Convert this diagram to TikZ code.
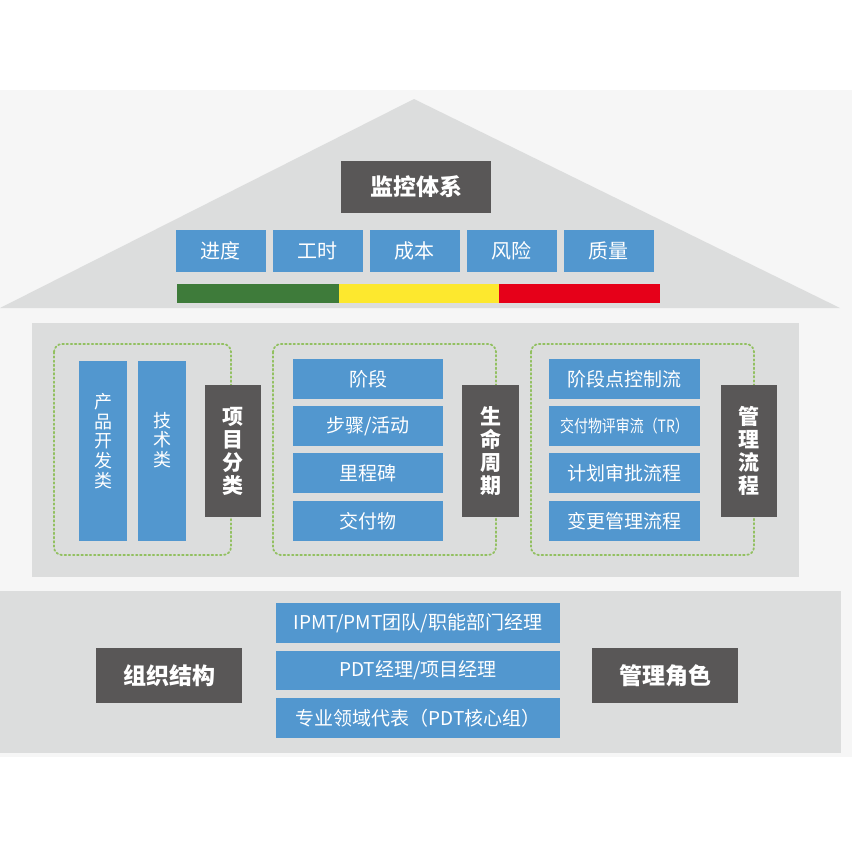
\documentclass[tikz,border=0pt]{standalone}
\usepackage{fontspec}
\setmainfont{Noto Sans CJK SC}
\definecolor{myblue}{RGB}{82,151,207}
\definecolor{mydark}{RGB}{89,87,87}
\definecolor{bandgray}{RGB}{220,221,221}
\definecolor{lightbg}{RGB}{246,246,246}
\definecolor{dotgreen}{RGB}{146,192,96}
\definecolor{bargreen}{RGB}{62,123,58}
\definecolor{baryellow}{RGB}{253,232,46}
\definecolor{barred}{RGB}{230,0,25}
\begin{document}
\begin{tikzpicture}[x=1pt,y=-1pt,
  boxbase/.style={inner sep=0pt, outer sep=0pt, text=white, align=center},
  bluebox/.style={boxbase, fill=myblue, font=\fontsize{19}{21}\selectfont},
  darkbox/.style={boxbase, fill=mydark, font=\bfseries\fontsize{23}{25}\selectfont},
  vdark/.style={boxbase, fill=mydark, font=\bfseries\fontsize{21}{23}\selectfont},
  vtext/.style={inner sep=0pt, text=white, align=center, font=\fontsize{18}{19.6}\selectfont},
  dotbox/.style={draw=dotgreen, line width=1.8pt, dash pattern=on 1.6pt off 2.6pt, line cap=round, rounded corners=8pt},
  bandfill/.style={fill=bandgray}
]
\useasboundingbox (0,0) rectangle (852,852);
\fill[white] (0,0) rectangle (852,852);
\fill[lightbg] (0,90) rectangle (852,757);

% roof
\fill[bandfill] (0,308) -- (414,99) -- (840,308) -- cycle;
\node[darkbox, minimum width=150pt, minimum height=52pt] (mon) at (416,187) {监控体系};
\node[bluebox, font=\fontsize{20}{22}\selectfont, minimum width=90pt, minimum height=42pt] (t1) at (220.5,251) {进度};
\node[bluebox, font=\fontsize{20}{22}\selectfont, minimum width=90pt, minimum height=42pt] (t2) at (317.5,251) {工时};
\node[bluebox, font=\fontsize{20}{22}\selectfont, minimum width=90pt, minimum height=42pt] (t3) at (414.5,251) {成本};
\node[bluebox, font=\fontsize{20}{22}\selectfont, minimum width=90pt, minimum height=42pt] (t4) at (511.5,251) {风险};
\node[bluebox, font=\fontsize{20}{22}\selectfont, minimum width=90pt, minimum height=42pt] (t5) at (608.5,251) {质量};
\fill[bargreen] (177,284) rectangle (339,303);
\fill[baryellow] (339,284) rectangle (499,303);
\fill[barred] (499,284) rectangle (660,303);

% middle band
\fill[bandfill] (32,323) rectangle (799,577);
\draw[dotbox] (54,344) rectangle (231,555);
\draw[dotbox] (273,344) rectangle (496,555);
\draw[dotbox] (531,344) rectangle (754,555);

\node[bluebox, minimum width=48pt, minimum height=180pt] (pd) at (103,451) {};
\node[vtext] (pdt) at (103,441) {产\\品\\开\\发\\类};
\node[bluebox, minimum width=48pt, minimum height=180pt] (js) at (162,451) {};
\node[vtext] (jst) at (162,440) {技\\术\\类};
\node[vdark, minimum width=56pt, minimum height=132pt] (xmfl) at (233,451) {项\\目\\分\\类};

\node[bluebox, minimum width=150pt, minimum height=40pt] (l1) at (368,379) {阶段};
\node[bluebox, minimum width=150pt, minimum height=40pt] (l2) at (368,426) {步骤/活动};
\node[bluebox, minimum width=150pt, minimum height=40pt] (l3) at (368,473) {里程碑};
\node[bluebox, minimum width=150pt, minimum height=40pt] (l4) at (368,521) {交付物};
\node[vdark, minimum width=57pt, minimum height=132pt] (smzq) at (490.5,451) {生\\命\\周\\期};

\node[bluebox, minimum width=151pt, minimum height=40pt] (p1) at (624.5,379) {阶段点控制流};
\node[bluebox, font=\fontsize{17}{19}\selectfont, minimum width=151pt, minimum height=40pt] (p2) at (624.5,426) {\scalebox{0.82}[1]{交付物评审流（TR）}};
\node[bluebox, minimum width=151pt, minimum height=40pt] (p3) at (624.5,473) {计划审批流程};
\node[bluebox, minimum width=151pt, minimum height=40pt] (p4) at (624.5,521) {变更管理流程};
\node[vdark, minimum width=56pt, minimum height=132pt] (gllc) at (749,451) {管\\理\\流\\程};

% bottom band
\fill[bandfill] (0,591) rectangle (841,753);
\node[darkbox, minimum width=146pt, minimum height=55pt] (zzjg) at (169,675.5) {组织结构};
\node[bluebox, minimum width=284pt, minimum height=40pt] (b1) at (418,623) {IPMT/PMT团队/职能部门经理};
\node[bluebox, minimum width=284pt, minimum height=39pt] (b2) at (418,670.5) {PDT经理/项目经理};
\node[bluebox, minimum width=284pt, minimum height=40pt] (b3) at (418,718) {专业领域代表（PDT核心组）};
\node[darkbox, minimum width=146pt, minimum height=55pt] (gljs) at (665,675.5) {管理角色};
\end{tikzpicture}
\end{document}
